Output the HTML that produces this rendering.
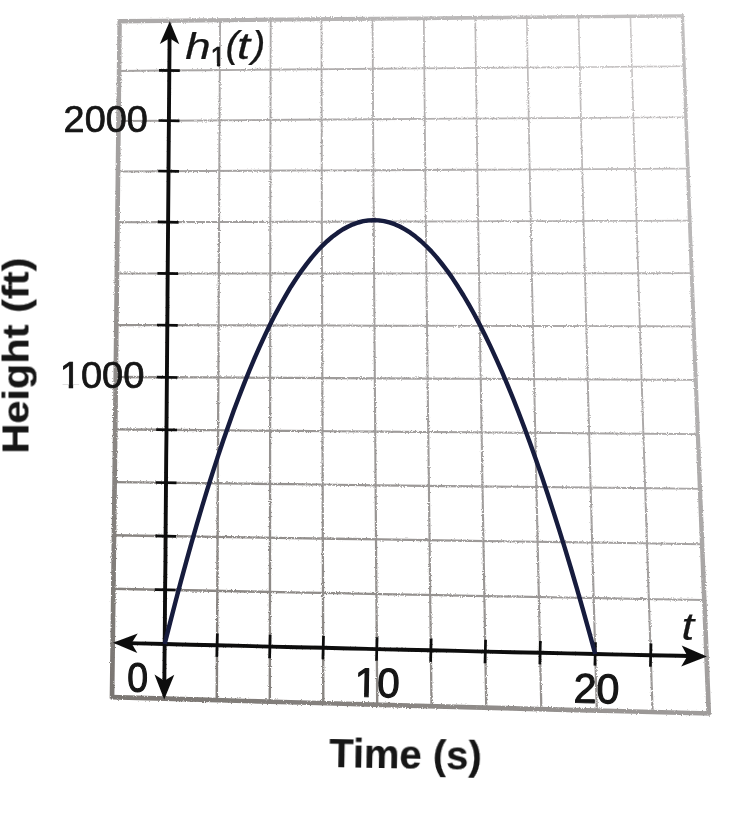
<!DOCTYPE html>
<html lang="en"><head><meta charset="utf-8"><title>Height vs Time graph</title>
<style>html,body{margin:0;padding:0;background:#fff}body{width:742px;height:818px;overflow:hidden}svg{display:block}text{font-family:"Liberation Sans",Arial,sans-serif;fill:#131313;stroke:#131313;stroke-width:.7px;stroke-linejoin:round}.b{stroke-width:.15px}.i{stroke-width:.25px}.h{stroke-width:1.1px}</style></head><body>
<svg width="742" height="818" viewBox="0 0 742 818">
<defs>
<linearGradient id="gg" gradientUnits="userSpaceOnUse" x1="700" y1="10" x2="100" y2="705"><stop offset="0" stop-color="#d0cdcd"/><stop offset="0.12" stop-color="#c4c1c1"/><stop offset="0.3" stop-color="#b0adad"/><stop offset="0.55" stop-color="#a09d9c"/><stop offset="0.8" stop-color="#8c8885"/><stop offset="1" stop-color="#7c7874"/></linearGradient>
<linearGradient id="gb" gradientUnits="userSpaceOnUse" x1="700" y1="10" x2="100" y2="705"><stop offset="0" stop-color="#c3c1c1"/><stop offset="0.3" stop-color="#b4b2b2"/><stop offset="0.55" stop-color="#a29f9e"/><stop offset="0.8" stop-color="#878380"/><stop offset="1" stop-color="#787470"/></linearGradient>
<filter id="soft" x="-5%" y="-5%" width="110%" height="110%"><feGaussianBlur stdDeviation="0.45"/></filter>
<filter id="rough" x="-2%" y="-2%" width="104%" height="104%"><feTurbulence type="fractalNoise" baseFrequency="0.8" numOctaves="2" seed="7" result="n"/><feDisplacementMap in="SourceGraphic" in2="n" scale="2.8" xChannelSelector="R" yChannelSelector="G"/><feGaussianBlur stdDeviation="0.35"/></filter>
</defs>
<rect width="742" height="818" fill="#ffffff"/>
<g filter="url(#rough)">
<g fill="url(#gg)" stroke="none">
<polygon points="168.79,20.72 168.34,70.50 167.90,120.66 167.47,171.21 167.04,222.14 166.61,273.46 166.18,325.17 165.75,377.28 165.31,429.80 164.86,482.73 164.40,536.08 163.92,589.84 163.42,644.03 162.90,698.65 165.44,698.67 165.91,644.05 166.36,589.86 166.79,536.10 167.21,482.75 167.61,429.82 168.00,377.30 168.39,325.19 168.77,273.47 169.15,222.15 169.53,171.22 169.91,120.68 170.31,70.52 170.71,20.74"/>
<polygon points="219.17,20.22 218.86,70.07 218.57,120.31 218.29,170.95 218.02,221.99 217.76,273.44 217.50,325.30 217.24,377.56 216.98,430.25 216.71,483.37 216.43,536.91 216.14,590.89 215.84,645.30 215.51,700.17 218.02,700.18 218.29,645.32 218.54,590.90 218.78,536.92 219.01,483.38 219.23,430.26 219.45,377.57 219.66,325.31 219.88,273.45 220.09,222.00 220.32,170.96 220.55,120.32 220.79,70.08 221.05,20.23"/>
<polygon points="269.79,19.72 269.65,69.64 269.52,119.97 269.41,170.70 269.32,221.85 269.23,273.42 269.15,325.42 269.08,377.84 269.01,430.70 268.94,484.00 268.86,537.74 268.78,591.93 268.69,646.57 268.58,701.68 271.05,701.68 271.10,646.58 271.15,591.93 271.18,537.74 271.21,484.00 271.23,430.70 271.25,377.85 271.28,325.42 271.31,273.43 271.35,221.86 271.39,170.71 271.46,119.97 271.54,69.64 271.64,19.72"/>
<polygon points="320.64,19.22 320.67,69.21 320.73,119.62 320.81,170.45 320.90,221.71 321.01,273.41 321.13,325.54 321.27,378.12 321.40,431.15 321.55,484.62 321.69,538.56 321.83,592.96 321.96,647.84 322.09,703.18 324.52,703.18 324.34,647.83 324.15,592.96 323.96,538.55 323.77,484.62 323.58,431.14 323.40,378.11 323.22,325.54 323.05,273.40 322.89,221.71 322.75,170.45 322.62,119.62 322.52,69.21 322.44,19.22"/>
<polygon points="371.70,18.73 371.92,68.79 372.18,119.28 372.46,170.20 372.76,221.57 373.08,273.39 373.42,325.66 373.77,378.39 374.14,431.59 374.51,485.25 374.89,539.38 375.27,593.99 375.65,649.09 376.02,704.68 378.41,704.66 377.98,649.08 377.55,593.98 377.12,539.36 376.69,485.23 376.27,431.57 375.86,378.38 375.46,325.65 375.08,273.38 374.71,221.56 374.36,170.19 374.03,119.27 373.73,68.78 373.46,18.72"/>
<polygon points="422.95,18.25 423.39,68.37 423.86,118.93 424.36,169.96 424.88,221.43 425.43,273.38 426.00,325.78 426.59,378.67 427.20,432.02 427.82,485.87 428.45,540.20 429.08,595.02 429.72,650.34 430.37,706.17 432.71,706.14 432.01,650.31 431.32,594.99 430.64,540.17 429.96,485.84 429.29,432.00 428.64,378.64 428.00,325.76 427.38,273.35 426.79,221.41 426.22,169.94 425.67,118.92 425.16,68.35 424.68,18.23"/>
<polygon points="474.39,17.76 475.05,67.95 475.75,118.59 476.48,169.71 477.25,221.29 478.04,273.36 478.86,325.90 479.70,378.93 480.57,432.46 481.45,486.48 482.35,541.01 483.26,596.04 484.18,651.59 485.10,707.65 487.40,707.61 486.43,651.55 485.46,596.00 484.50,540.97 483.55,486.45 482.62,432.42 481.71,378.90 480.82,325.87 479.95,273.33 479.11,221.27 478.30,169.68 477.52,118.57 476.78,67.92 476.07,17.74"/>
<polygon points="525.99,17.28 526.89,67.53 527.84,118.26 528.82,169.46 529.85,221.15 530.90,273.34 531.99,326.02 533.10,379.20 534.24,432.89 535.40,487.09 536.58,541.81 537.78,597.05 538.99,652.82 540.22,709.13 542.48,709.08 541.20,652.77 539.94,597.00 538.69,541.76 537.46,487.05 536.25,432.85 535.06,379.16 533.90,325.98 532.77,273.30 531.67,221.12 530.60,169.43 529.57,118.22 528.58,67.50 527.63,17.25"/>
<polygon points="577.74,16.81 578.91,67.12 580.11,117.92 581.37,169.21 582.66,221.01 583.99,273.32 585.36,326.13 586.76,379.46 588.19,433.32 589.65,487.69 591.13,542.61 592.63,598.06 594.16,654.05 595.70,710.60 597.92,710.53 596.32,653.99 594.75,598.00 593.20,542.55 591.67,487.64 590.16,433.26 588.68,379.41 587.23,326.08 585.82,273.27 584.44,220.97 583.10,169.17 581.80,117.88 580.55,67.08 579.34,16.77"/>
<polygon points="629.63,16.33 631.07,66.70 632.56,117.58 634.09,168.97 635.68,220.87 637.30,273.29 638.97,326.24 640.67,379.72 642.41,433.74 644.18,488.29 645.98,543.40 647.81,599.06 649.66,655.27 651.53,712.06 653.71,711.98 651.78,655.20 649.88,598.99 648.00,543.33 646.15,488.23 644.34,433.67 642.55,379.66 640.80,326.18 639.09,273.24 637.42,220.82 635.79,168.92 634.21,117.53 632.67,66.66 631.19,16.29"/>
<polygon points="112.69,644.03 156.61,645.09 200.86,646.15 245.43,647.21 290.30,648.26 335.47,649.30 380.93,650.34 426.67,651.38 472.68,652.41 518.95,653.44 565.48,654.46 612.25,655.47 659.26,656.48 706.50,657.49 706.54,655.41 659.31,654.37 612.30,653.32 565.53,652.27 519.00,651.21 472.73,650.15 426.72,649.09 380.99,648.02 335.53,646.94 290.36,645.86 245.49,644.77 200.92,643.69 156.67,642.59 112.75,641.50"/>
<polygon points="113.35,590.04 157.12,590.91 201.21,591.78 245.60,592.64 290.29,593.50 335.26,594.35 380.51,595.20 426.03,596.05 471.81,596.89 517.84,597.73 564.11,598.56 610.61,599.39 657.34,600.21 704.28,601.02 704.32,598.99 657.37,598.14 610.65,597.28 564.15,596.42 517.88,595.55 471.85,594.68 426.07,593.81 380.56,592.93 335.31,592.04 290.33,591.15 245.65,590.26 201.26,589.36 157.17,588.46 113.40,587.56"/>
<polygon points="113.98,536.47 157.61,537.16 201.54,537.84 245.76,538.53 290.27,539.20 335.05,539.88 380.09,540.55 425.39,541.22 470.94,541.88 516.73,542.54 562.75,543.20 608.99,543.85 655.44,544.49 702.09,545.14 702.12,543.15 655.47,542.48 609.02,541.79 562.78,541.11 516.76,540.42 470.98,539.72 425.43,539.02 380.13,538.32 335.08,537.61 290.30,536.90 245.80,536.19 201.58,535.48 157.65,534.76 114.02,534.04"/>
<polygon points="114.59,483.30 158.08,483.82 201.86,484.34 245.91,484.85 290.24,485.36 334.83,485.87 379.68,486.38 424.76,486.88 470.09,487.38 515.64,487.87 561.41,488.37 607.39,488.85 653.57,489.34 699.94,489.82 699.96,487.88 653.59,487.37 607.41,486.85 561.43,486.32 515.66,485.80 470.11,485.27 424.79,484.73 379.70,484.20 334.86,483.66 290.27,483.11 245.94,482.57 201.89,482.02 158.11,481.47 114.62,480.92"/>
<polygon points="115.19,430.53 158.54,430.90 202.16,431.26 246.06,431.62 290.21,431.97 334.62,432.33 379.27,432.68 424.15,433.03 469.25,433.37 514.57,433.72 560.09,434.06 605.81,434.40 651.73,434.73 697.82,435.06 697.83,433.17 651.74,432.81 605.83,432.44 560.11,432.07 514.58,431.69 469.27,431.31 424.16,430.93 379.28,430.55 334.64,430.16 290.23,429.77 246.08,429.38 202.18,428.99 158.56,428.59 115.21,428.20"/>
<polygon points="115.77,378.16 158.98,378.38 202.46,378.60 246.20,378.81 290.19,379.03 334.41,379.24 378.86,379.45 423.54,379.66 468.43,379.87 513.52,380.07 558.80,380.27 604.27,380.47 649.92,380.67 695.73,380.86 695.74,379.02 649.93,378.79 604.28,378.56 558.81,378.33 513.53,378.09 468.44,377.85 423.55,377.61 378.87,377.36 334.42,377.12 290.20,376.87 246.21,376.62 202.48,376.37 159.00,376.12 115.78,375.87"/>
<polygon points="116.34,326.18 159.42,326.26 202.76,326.35 246.34,326.44 290.16,326.52 334.21,326.60 378.47,326.69 422.95,326.77 467.62,326.85 512.49,326.92 557.54,327.00 602.76,327.07 648.14,327.14 693.69,327.21 693.69,325.42 648.15,325.31 602.76,325.21 557.54,325.10 512.49,324.99 467.63,324.88 422.95,324.76 378.48,324.65 334.21,324.53 290.17,324.41 246.35,324.29 202.76,324.18 159.43,324.06 116.34,323.94"/>
<polygon points="116.90,274.58 159.85,274.55 203.05,274.52 246.48,274.48 290.14,274.45 334.02,274.41 378.10,274.38 422.37,274.34 466.84,274.31 511.48,274.27 556.30,274.23 601.28,274.19 646.41,274.15 691.69,274.11 691.69,272.36 646.41,272.37 601.28,272.38 556.30,272.38 511.48,272.38 466.84,272.39 422.37,272.39 378.09,272.39 334.01,272.39 290.14,272.39 246.48,272.39 203.05,272.39 159.85,272.39 116.90,272.39"/>
<polygon points="117.45,223.37 160.28,223.22 203.35,223.08 246.63,222.95 290.13,222.81 333.84,222.67 377.74,222.53 421.82,222.39 466.08,222.25 510.51,222.11 555.10,221.97 599.84,221.83 644.72,221.69 689.73,221.54 689.72,219.84 644.71,219.95 599.83,220.06 555.09,220.17 510.51,220.27 466.08,220.38 421.81,220.48 377.73,220.58 333.83,220.69 290.13,220.79 246.63,220.90 203.34,221.00 160.28,221.11 117.44,221.22"/>
<polygon points="118.00,172.53 160.71,172.29 203.65,172.06 246.79,171.82 290.14,171.59 333.67,171.36 377.40,171.13 421.29,170.90 465.35,170.67 509.57,170.44 553.93,170.21 598.44,169.98 643.07,169.75 687.82,169.52 687.81,167.86 643.06,168.06 598.43,168.25 553.93,168.45 509.56,168.64 465.34,168.84 421.28,169.03 377.39,169.23 333.66,169.43 290.13,169.62 246.78,169.82 203.64,170.02 160.70,170.22 117.99,170.42"/>
<polygon points="118.55,122.06 161.15,121.74 203.95,121.42 246.96,121.11 290.15,120.79 333.53,120.48 377.08,120.17 420.79,119.86 464.65,119.55 508.66,119.24 552.81,118.94 597.08,118.63 641.47,118.32 685.96,118.02 685.95,116.41 641.46,116.68 597.07,116.95 552.79,117.22 508.65,117.50 464.64,117.77 420.78,118.04 377.07,118.32 333.52,118.59 290.14,118.87 246.94,119.15 203.94,119.43 161.13,119.72 118.53,120.00"/>
<polygon points="119.10,71.96 161.59,71.57 204.27,71.18 247.14,70.79 290.19,70.41 333.41,70.03 376.79,69.65 420.32,69.28 463.99,68.90 507.79,68.53 551.72,68.16 595.76,67.78 639.91,67.42 684.16,67.05 684.15,65.48 639.90,65.82 595.75,66.15 551.71,66.49 507.78,66.82 463.97,67.16 420.30,67.50 376.77,67.85 333.39,68.19 290.17,68.54 247.12,68.89 204.25,69.24 161.57,69.59 119.08,69.95"/>
</g>
<g fill="url(#gb)" stroke="none">
<polygon points="118.37,23.46 162.05,22.96 204.61,22.49 247.35,22.02 290.26,21.55 333.32,21.09 376.53,20.63 419.88,20.17 463.37,19.71 506.97,19.26 550.69,18.81 594.51,18.36 638.42,17.91 683.72,17.45 683.69,14.20 638.39,14.57 594.47,14.93 550.65,15.29 506.94,15.65 463.33,16.01 419.85,16.38 376.50,16.75 333.28,17.12 290.22,17.50 247.31,17.88 204.57,18.26 162.00,18.65 118.32,19.05"/>
<polygon points="680.73,14.59 682.47,66.32 684.22,117.28 686.02,168.75 687.87,220.76 689.77,273.31 691.71,326.39 693.70,380.02 695.72,434.20 697.79,488.93 699.88,544.23 702.01,600.10 704.17,656.54 706.47,714.86 711.17,714.67 708.87,656.35 706.59,599.92 704.33,544.06 702.11,488.77 699.92,434.04 697.77,379.86 695.67,326.24 693.60,273.16 691.58,220.63 689.61,168.62 687.70,117.15 685.83,66.21 683.98,14.48"/>
<polygon points="710.13,711.15 661.30,709.89 614.01,708.66 566.96,707.43 520.18,706.19 473.65,704.94 427.41,703.69 381.44,702.44 335.77,701.17 290.40,699.91 245.34,698.64 200.60,697.36 156.19,696.08 110.81,694.75 110.67,699.45 156.05,700.78 200.47,702.06 245.21,703.33 290.27,704.61 335.64,705.87 381.32,707.13 427.28,708.39 473.53,709.64 520.05,710.89 566.84,712.13 613.88,713.36 661.18,714.59 710.01,715.85"/>
<polygon points="114.37,698.47 115.07,642.79 115.72,588.83 116.35,535.28 116.96,482.13 117.55,429.39 118.13,377.04 118.69,325.08 119.25,273.51 119.80,222.32 120.34,171.50 120.86,121.06 121.35,70.98 121.86,19.96 117.46,19.91 116.83,70.93 116.22,121.01 115.64,171.45 115.10,222.27 114.55,273.46 113.99,325.03 113.43,376.99 112.85,429.34 112.26,482.08 111.65,535.23 111.02,588.77 110.37,642.73 109.67,698.41"/>
</g></g>
<g filter="url(#soft)">
<g stroke="#101010" fill="#101010">
<polyline fill="none" stroke-width="3.9" points="120.7,643.0 138.6,643.4 164.7,644.0 190.8,644.7 217.1,645.3 243.4,645.9 269.9,646.6 296.5,647.2 323.2,647.8 349.9,648.5 376.8,649.1 403.8,649.7 430.9,650.3 458.0,650.9 485.3,651.6 512.7,652.2 540.1,652.8 567.6,653.4 595.2,654.0 622.9,654.6 650.7,655.2 678.6,655.8 698.5,656.2"/>
<polyline fill="none" stroke-width="3.9" points="169.6,28.7 169.5,45.6 169.3,70.5 169.1,95.5 168.9,120.7 168.7,145.9 168.5,171.2 168.3,196.6 168.1,222.1 167.9,247.8 167.7,273.5 167.5,299.3 167.3,325.2 167.1,351.2 166.9,377.3 166.7,403.5 166.5,429.8 166.2,456.2 166.0,482.7 165.8,509.4 165.6,536.1 165.4,562.9 165.1,589.8 164.9,616.9 164.7,644.0 164.4,671.3 164.4,690.7"/>
<line x1="217.4" y1="633.5" x2="216.8" y2="656.9" stroke-width="2.7"/>
<line x1="270.2" y1="634.8" x2="269.6" y2="658.2" stroke-width="2.7"/>
<line x1="323.5" y1="636.0" x2="322.9" y2="659.4" stroke-width="2.7"/>
<line x1="377.1" y1="637.3" x2="376.5" y2="660.7" stroke-width="2.7"/>
<line x1="431.2" y1="638.5" x2="430.6" y2="661.9" stroke-width="2.7"/>
<line x1="485.6" y1="639.8" x2="485.0" y2="663.2" stroke-width="2.7"/>
<line x1="540.4" y1="641.0" x2="539.8" y2="664.4" stroke-width="2.7"/>
<line x1="595.5" y1="642.2" x2="594.9" y2="665.6" stroke-width="2.7"/>
<line x1="651.0" y1="643.4" x2="650.4" y2="666.8" stroke-width="2.7"/>
<line x1="154.8" y1="589.6" x2="175.6" y2="590.0" stroke-width="2.7"/>
<line x1="155.3" y1="535.9" x2="176.1" y2="536.3" stroke-width="2.7"/>
<line x1="155.7" y1="482.5" x2="176.5" y2="482.9" stroke-width="2.7"/>
<line x1="156.2" y1="429.6" x2="177.0" y2="430.0" stroke-width="2.7"/>
<line x1="156.6" y1="377.1" x2="177.4" y2="377.5" stroke-width="2.7"/>
<line x1="157.0" y1="325.0" x2="177.8" y2="325.4" stroke-width="2.7"/>
<line x1="157.4" y1="273.3" x2="178.2" y2="273.7" stroke-width="2.7"/>
<line x1="157.8" y1="221.9" x2="178.6" y2="222.3" stroke-width="2.7"/>
<line x1="158.2" y1="171.0" x2="179.0" y2="171.4" stroke-width="2.7"/>
<line x1="158.6" y1="120.5" x2="179.4" y2="120.9" stroke-width="2.7"/>
<line x1="159.0" y1="70.3" x2="179.8" y2="70.7" stroke-width="2.7"/>
<polygon stroke="none" points="706.9,656.4 681.7,645.4 687.4,656.0 681.2,666.4"/>
<polygon stroke="none" points="113.0,642.8 137.3,653.1 131.5,643.2 137.7,633.6"/>
<polygon stroke="none" points="169.8,21.2 159.8,44.1 169.6,38.2 179.3,44.3"/>
<polygon stroke="none" points="164.2,699.5 174.3,674.7 164.3,680.7 154.5,674.6"/>
</g>
<polyline points="164.7,644.0 170.1,622.6 175.5,601.8 180.8,581.6 186.2,561.9 191.5,542.9 196.8,524.4 202.1,506.5 207.4,489.1 212.7,472.3 218.0,456.1 223.2,440.5 228.5,425.4 233.7,410.8 239.0,396.8 244.2,383.4 249.4,370.5 254.6,358.1 259.8,346.3 265.0,335.1 270.2,324.3 275.4,314.1 280.6,304.5 285.8,295.3 290.9,286.7 296.1,278.7 301.3,271.1 306.5,264.1 311.6,257.6 316.8,251.6 322.0,246.1 327.1,241.2 332.3,236.8 337.5,232.9 342.6,229.5 347.8,226.7 353.0,224.3 358.2,222.5 363.3,221.2 368.5,220.4 373.7,220.1 378.9,220.4 384.1,221.1 389.3,222.4 394.6,224.2 399.8,226.5 405.0,229.4 410.3,232.7 415.5,236.6 420.8,241.0 426.1,246.0 431.4,251.4 436.7,257.4 442.0,264.0 447.4,271.0 452.7,278.6 458.1,286.8 463.5,295.5 468.9,304.7 474.4,314.5 479.8,324.8 485.3,335.7 490.8,347.1 496.3,359.1 501.9,371.7 507.5,384.8 513.1,398.5 518.7,412.8 524.4,427.7 530.1,443.2 535.8,459.2 541.6,475.9 547.4,493.2 553.2,511.1 559.1,529.6 565.0,548.7 571.0,568.5 577.0,588.9 583.0,609.9 589.1,631.6 595.2,654.0" fill="none" stroke="#151a3d" stroke-width="4.4" stroke-linecap="butt" stroke-linejoin="round"/>
<text transform="translate(185.2 58.8) scale(1.22 1)" font-size="37.5" font-style="italic" class="i">h</text>
<clipPath id="c1" clipPathUnits="userSpaceOnUse"><polygon points="-2.80,-25.20 19.60,-25.20 19.60,-2.99 9.86,-2.99 9.86,1.40 6.66,1.40 6.66,-2.99 -2.80,-2.99"/></clipPath><text transform="translate(210.6 66) scale(0.95 1)" font-size="28"  clip-path="url(#c1)">1</text>
<text transform="translate(225.6 56.6) scale(1.1 1)" font-size="36.5" font-style="italic" class="i">(</text>
<text transform="translate(237 58.8) scale(1.25 1)" font-size="37.5" font-style="italic" class="i">t</text>
<text transform="translate(252 56.6) scale(1.1 1)" font-size="36.5" font-style="italic" class="i">)</text>
<text transform="translate(63.6 131.9) scale(1.045 1)" font-size="36.2" >2000</text>
<clipPath id="c2" clipPathUnits="userSpaceOnUse"><polygon points="-3.78,-34.02 26.46,-34.02 26.46,-3.72 13.31,-3.72 13.31,1.89 9.00,1.89 9.00,-3.72 -3.78,-3.72"/></clipPath><text transform="translate(59.7 388.3) scale(1.008 1)" font-size="37.8"  clip-path="url(#c2)">1</text>
<text transform="translate(80.89 388.3) scale(1.008 1)" font-size="37.8" >000</text>
<text transform="translate(127.2 692) scale(0.89 1)" font-size="42" class="h">0</text>
<g transform="rotate(1 378 690)"><clipPath id="c3" clipPathUnits="userSpaceOnUse"><polygon points="-4.10,-36.90 28.70,-36.90 28.70,-3.96 14.43,-3.96 14.43,2.05 9.76,2.05 9.76,-3.96 -4.10,-3.96"/></clipPath><text transform="translate(354.6 697) scale(0.985 1)" font-size="41" class="h" clip-path="url(#c3)">1</text><text transform="translate(377.06 697) scale(0.985 1)" font-size="41" class="h">0</text></g>
<g transform="rotate(1 596 695)"><text transform="translate(573.6 702.9) scale(0.99 1)" font-size="41.5" class="h">20</text></g>
<text transform="translate(681.4 640.4) scale(1.2 1)" font-size="38" font-style="italic" class="i">t</text>
<text class="b" x="329" y="767.3" font-size="40" font-weight="bold" transform="rotate(1.1 329 767.3)" textLength="152.5" lengthAdjust="spacingAndGlyphs">Time (s)</text>
<text class="b" x="0" y="0" font-size="36" font-weight="bold" transform="translate(28.5 453.6) rotate(-90)" textLength="196" lengthAdjust="spacingAndGlyphs">Height (ft)</text>
</g>
</svg></body></html>
